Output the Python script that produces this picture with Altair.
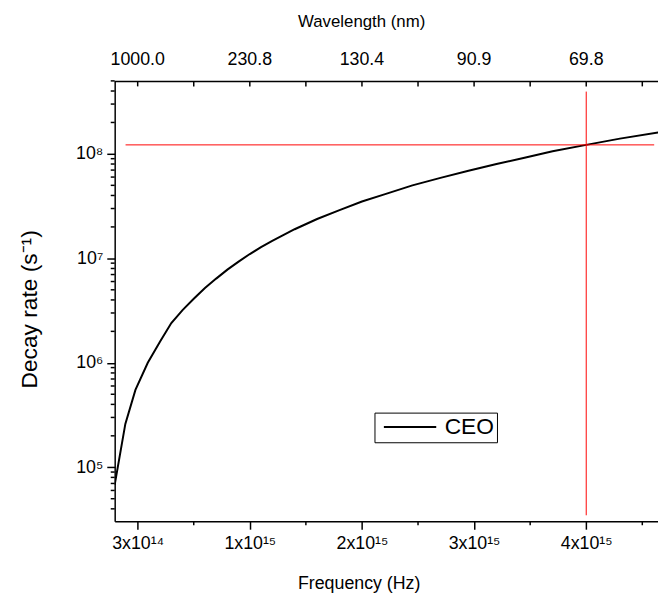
import altair as alt
import pandas as pd

# ---- data ----
freq_hz = [9.5e13, 1.9e14, 2.8e14, 3.9e14, 5.0e14, 6.0e14, 7.0e14, 8.0e14, 9.0e14, 1.0e15,
           1.1e15, 1.2e15, 1.3e15, 1.4e15, 1.5e15, 1.7e15, 1.9e15, 2.1e15, 2.3e15, 2.5e15,
           2.75e15, 3.0e15, 3.25e15, 3.5e15, 3.75e15, 4.0e15, 4.3e15, 4.6e15, 4.95e15]
decay_rate = [6.8e4, 2.6e5, 5.5e5, 1.0e6, 1.6e6, 2.4e6, 3.2e6, 4.1e6, 5.2e6, 6.4e6,
              7.8e6, 9.3e6, 1.1e7, 1.28e7, 1.47e7, 1.9e7, 2.38e7, 2.9e7, 3.5e7, 4.1e7,
              5.0e7, 5.9e7, 6.9e7, 8.0e7, 9.2e7, 1.06e8, 1.22e8, 1.4e8, 1.61e8]
series_name = "CEO"

# red marker lines
marker_rate = 1.22e8
marker_freq = 4.3e15
hline_x = [1.92e14, 4.906e15]
vline_y = [3.47e4, 3.95e8]

# axes
x_domain = [9.5e13, 4.94e15]
y_domain = [3.04e4, 5.02e8]
x_major_values = [3e14, 1.3e15, 2.3e15, 3.3e15, 4.3e15]
x_minor_values = [8e14, 1.8e15, 2.8e15, 3.8e15, 4.8e15]
x_major_labels = ["3x10¹⁴", "1x10¹⁵", "2x10¹⁵", "3x10¹⁵", "4x10¹⁵"]
wavelength_labels = ["1000.0", "230.8", "130.4", "90.9", "69.8"]
top_title = "Wavelength (nm)"
y_major_values = [1e5, 1e6, 1e7, 1e8]
y_major_labels = ["10⁵", "10⁶", "10⁷", "10⁸"]
y_minor_values = [4e4, 5e4, 6e4, 7e4, 8e4, 9e4,
                  2e5, 3e5, 4e5, 5e5, 6e5, 7e5, 8e5, 9e5,
                  2e6, 3e6, 4e6, 5e6, 6e6, 7e6, 8e6, 9e6,
                  2e7, 3e7, 4e7, 5e7, 6e7, 7e7, 8e7, 9e7,
                  2e8, 3e8, 4e8, 5e8]

FONT = "Liberation Sans"
W, H = 550, 446


def label_expr(values, labels):
    parts = [f"datum.value == {repr(float(v))} ? '{l}'" for v, l in zip(values, labels)]
    return " : ".join(parts) + " : ''"


curve_df = pd.DataFrame({"freq": freq_hz, "rate": decay_rate, "series": series_name})
hline_df = pd.DataFrame({"freq": [hline_x[0]], "freq2": [hline_x[1]], "rate": [marker_rate]})
vline_df = pd.DataFrame({"freq": [marker_freq], "rate": [vline_y[0]], "rate2": [vline_y[1]]})
xminor_df = pd.DataFrame({"freq": x_minor_values})
xtop_df = pd.DataFrame({"freq": x_major_values + x_minor_values})
toplab_df = pd.DataFrame({"freq": x_major_values, "label": wavelength_labels})
yminor_df = pd.DataFrame({"rate": y_minor_values})
one_df = pd.DataFrame({"t": [top_title]})

xscale = alt.Scale(domain=x_domain, nice=False, zero=False)
yscale = alt.Scale(type="log", domain=y_domain, nice=False)

common_axis = dict(labelFont=FONT, titleFont=FONT, labelColor="black", titleColor="black",
                   domainColor="black", tickColor="black", domainWidth=1.5, tickWidth=1.5,
                   grid=False, labelFontSize=18, titleFontWeight="normal")

x_bottom = alt.Axis(orient="bottom", values=x_major_values,
                    labelExpr=label_expr(x_major_values, x_major_labels),
                    tickSize=8, labelPadding=6, title="Frequency (Hz)", titleFontSize=18,
                    titlePadding=22, titleX=247, titleAnchor="start", titleAlign="center",
                    **common_axis)
y_left = alt.Axis(orient="left", values=y_major_values,
                  labelExpr=label_expr(y_major_values, y_major_labels),
                  tickSize=8, labelPadding=4, title="Decay rate (s⁻¹)", titleFontSize=23,
                  titlePadding=35, titleY=231, titleAnchor="start", titleAlign="center",
                  **common_axis)


def X(field):
    return alt.X(field, type="quantitative", scale=xscale, axis=x_bottom)


def Y(field):
    return alt.Y(field, type="quantitative", scale=yscale, axis=y_left)


curve = alt.Chart(curve_df).mark_line(color="black", strokeWidth=2, clip=True).encode(
    x=X("freq"),
    y=Y("rate"),
    color=alt.Color("series:N", scale=alt.Scale(domain=[series_name], range=["black"]),
                    legend=alt.Legend(orient="none", legendX=263, legendY=336, title=None,
                                      strokeColor="black", padding=3,
                                      symbolType="M-1.0,0H9.6", symbolSize=100,
                                      symbolStrokeWidth=2, symbolStrokeColor="black",
                                      symbolFillColor="transparent",
                                      labelFontSize=23, labelFont=FONT, labelColor="black",
                                      labelOffset=45, cornerRadius=0)),
)

hline = alt.Chart(hline_df).mark_rule(color="#ff0000", strokeWidth=1).encode(
    x=X("freq"), x2="freq2:Q", y=Y("rate"),
)

vline = alt.Chart(vline_df).mark_rule(color="#ff0000", strokeWidth=1).encode(
    x=X("freq"), y=Y("rate"), y2="rate2:Q",
)

# tick glyphs drawn as stroked point symbols (short line paths)
tick_style = dict(filled=False, color="black", strokeWidth=1.5, opacity=1, size=4)

# minor ticks on the bottom axis (outward, downwards)
xminor_ticks = alt.Chart(xminor_df).mark_point(shape="M0,0V4", **tick_style).encode(
    x=X("freq"), y=alt.value(H),
)
# minor ticks on the left axis (outward, leftwards)
yminor_ticks = alt.Chart(yminor_df).mark_point(shape="M0,0H-4", **tick_style).encode(
    y=Y("rate"), x=alt.value(0),
)
# top (wavelength) axis: frame line, inward ticks, labels, title
top_line = alt.Chart(one_df).mark_rule(color="black", strokeWidth=1.5).encode(
    x=alt.value(0), x2=alt.value(W), y=alt.value(0.75), y2=alt.value(0.75),
)
top_ticks = alt.Chart(xtop_df).mark_point(shape="M0,0V5", **tick_style).encode(
    x=X("freq"), y=alt.value(0.75),
)
top_labels = alt.Chart(toplab_df).mark_text(
    font=FONT, fontSize=18, color="black", baseline="alphabetic", align="center"
).encode(
    x=X("freq"), y=alt.value(-16), text="label:N",
)
top_title_mark = alt.Chart(one_df).mark_text(
    font=FONT, fontSize=17, color="black", baseline="alphabetic", align="center"
).encode(
    x=alt.value(250), y=alt.value(-54), text="t:N",
)

chart = alt.layer(
    curve, hline, vline, xminor_ticks, yminor_ticks, top_line, top_ticks, top_labels,
    top_title_mark,
).properties(
    width=W, height=H, autosize="none",
    padding={"left": 108, "top": 70, "right": 0, "bottom": 70},
).configure_view(stroke=None)

chart.save("out.html", embed_options={"renderer": "svg", "actions": False})
